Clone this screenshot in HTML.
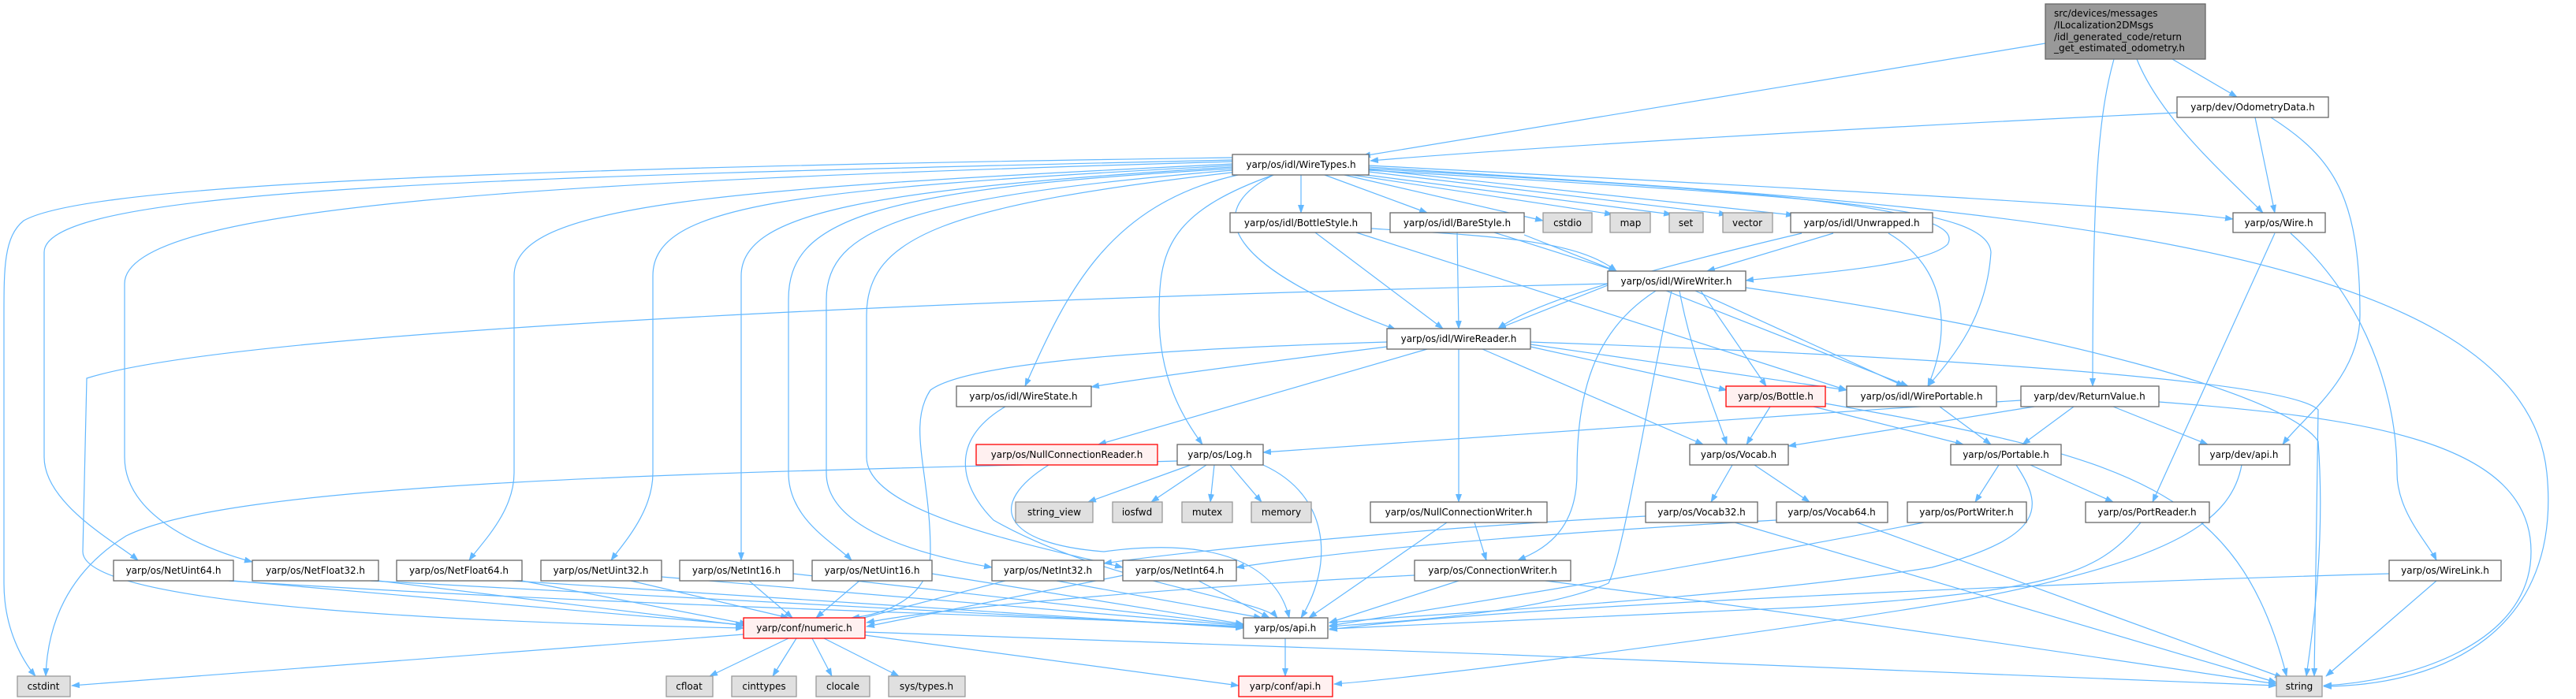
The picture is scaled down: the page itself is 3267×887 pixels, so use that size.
<!DOCTYPE html>
<html><head><meta charset="utf-8"><style>
html,body{margin:0;padding:0;background:#fff;}
svg{display:block;}
text{font-family:"DejaVu Sans","Liberation Sans",sans-serif;font-size:12px;fill:#000;}
.n{fill:#fff;stroke:#666;stroke-width:1.3;}
.g{fill:#e0e0e0;stroke:#999;stroke-width:1.3;}
.r{fill:#fff0f0;stroke:#f00;stroke-width:1.3;}
.root{fill:#999;stroke:#666;stroke-width:1.3;}
.e path{fill:none;stroke:#63b8ff;stroke-width:1.2;}
</style></head><body>
<svg width="3267" height="887" viewBox="0 0 3267 887" xmlns="http://www.w3.org/2000/svg">
<defs><marker id="a" markerUnits="userSpaceOnUse" markerWidth="11" markerHeight="8" refX="10" refY="4" orient="auto"><path d="M0,0 L11,4 L0,8 z" fill="#63b8ff"/></marker></defs>
<g class="e" marker-end="url(#a)">
<path marker-end="url(#a)" d="M2594,55 C2200,120 1900,170 1728,198"/>
<path marker-end="url(#a)" d="M2761,143 C2300,165 1900,190 1738,204"/>
<path marker-end="url(#a)" d="M2755,75 L2837,123"/>
<path marker-end="url(#a)" d="M2710,75 C2740,150 2820,220 2870,270"/>
<path marker-end="url(#a)" d="M2681,75 C2660,150 2654,250 2654,490"/>
<path marker-end="url(#a)" d="M2860,149 L2885,270"/>
<path marker-end="url(#a)" d="M2880,149 C2960,200 2993,250 2993,400 C2993,480 2920,530 2895,564"/>
<path marker-end="url(#a)" d="M1736,210 C2300,240 2700,260 2832,278"/>
<path marker-end="url(#a)" d="M1736,212 C2500,260 3200,300 3230,600 C3250,800 3100,870 2947,871"/>
<path marker-end="url(#a)" d="M1705,222 L1957,280"/>
<path marker-end="url(#a)" d="M1715,222 L2045,272"/>
<path marker-end="url(#a)" d="M1725,221 L2120,272"/>
<path marker-end="url(#a)" d="M1736,218 L2190,272"/>
<path marker-end="url(#a)" d="M1736,215 L2275,273"/>
<path marker-end="url(#a)" d="M1650,222 L1650,270"/>
<path marker-end="url(#a)" d="M1680,222 L1810,270"/>
<path marker-end="url(#a)" d="M1736,214 C2200,240 2500,260 2470,310 C2440,340 2260,350 2214,356"/>
<path marker-end="url(#a)" d="M1615,222 C1520,270 1560,340 1770,418"/>
<path marker-end="url(#a)" d="M1736,216 C2300,250 2520,260 2525,320 C2520,400 2480,450 2445,490"/>
<path marker-end="url(#a)" d="M1570,222 C1400,260 1350,380 1300,490"/>
<path marker-end="url(#a)" d="M1615,222 C1480,270 1470,320 1470,400 C1470,480 1500,530 1525,564"/>
<path marker-end="url(#a)" d="M1563,214 C1100,240 1000,280 1000,380 L1000,600 C1000,660 1060,690 1080,711"/>
<path marker-end="url(#a)" d="M1563,216 C1150,250 1048,290 1048,380 L1048,600 C1048,680 1200,710 1258,720"/>
<path marker-end="url(#a)" d="M1570,218 C1200,260 1099,300 1099,400 L1099,580 C1099,650 1300,690 1424,720"/>
<path marker-end="url(#a)" d="M1563,212 C1100,240 940,270 940,350 L940,711"/>
<path marker-end="url(#a)" d="M1563,210 C1000,240 828,260 828,350 L828,600 C828,650 790,690 775,711"/>
<path marker-end="url(#a)" d="M1563,208 C900,240 652,260 652,350 L652,600 C652,650 610,690 595,711"/>
<path marker-end="url(#a)" d="M1563,205 C700,230 158,260 158,360 L158,580 C158,660 270,700 320,713"/>
<path marker-end="url(#a)" d="M1563,203 C600,225 56,240 56,320 L56,580 C56,640 150,690 175,711"/>
<path marker-end="url(#a)" d="M1563,200 C500,215 100,240 30,280 C5,300 5,340 5,400 L5,740 C5,800 30,840 45,858"/>
<path marker-end="url(#a)" d="M2039,360 C1200,380 300,420 110,480 L105,700 C105,770 600,790 943,797"/>
<path marker-end="url(#a)" d="M1493,585 C900,600 300,610 160,680 C80,730 60,800 58,858"/>
<path marker-end="url(#a)" d="M1668,295 L1830,417"/>
<path marker-end="url(#a)" d="M1720,295 L2342,495"/>
<path marker-end="url(#a)" d="M1739,290 C1900,300 2000,305 2050,344"/>
<path marker-end="url(#a)" d="M1848,295 L1850,417"/>
<path marker-end="url(#a)" d="M1895,295 L2050,344"/>
<path marker-end="url(#a)" d="M1933,298 L2420,490"/>
<path marker-end="url(#a)" d="M2325,296 L2165,344"/>
<path marker-end="url(#a)" d="M2285,296 C2100,340 1950,380 1900,417"/>
<path marker-end="url(#a)" d="M2395,296 C2470,340 2475,420 2445,490"/>
<path marker-end="url(#a)" d="M2039,362 L1900,417"/>
<path marker-end="url(#a)" d="M2157,369 L2240,490"/>
<path marker-end="url(#a)" d="M2130,369 C2145,450 2175,520 2190,564"/>
<path marker-end="url(#a)" d="M2150,369 L2415,490"/>
<path marker-end="url(#a)" d="M2120,369 C2090,500 2060,700 2040,740 C1950,780 1750,790 1686,795"/>
<path marker-end="url(#a)" d="M2100,369 C2020,420 2000,500 2000,600 C2000,680 1950,700 1925,711"/>
<path marker-end="url(#a)" d="M2214,365 C2600,420 2900,500 2940,560 C2950,700 2930,820 2925,858"/>
<path marker-end="url(#a)" d="M1759,440 C1600,460 1450,480 1384,491"/>
<path marker-end="url(#a)" d="M1810,443 L1393,564"/>
<path marker-end="url(#a)" d="M1759,434 C1400,445 1220,465 1180,495 C1150,540 1180,600 1180,700 C1180,760 1120,780 1080,784"/>
<path marker-end="url(#a)" d="M1941,440 L2190,495"/>
<path marker-end="url(#a)" d="M1941,437 L2342,495"/>
<path marker-end="url(#a)" d="M1880,443 L2160,564"/>
<path marker-end="url(#a)" d="M1850,443 L1850,637"/>
<path marker-end="url(#a)" d="M1941,434 C2400,450 2900,480 2940,520 L2935,858"/>
<path marker-end="url(#a)" d="M1275,516 C1200,560 1220,620 1260,660 C1400,740 1600,760 1620,784"/>
<path marker-end="url(#a)" d="M1330,590 C1250,640 1270,690 1400,700 C1550,680 1620,720 1635,784"/>
<path marker-end="url(#a)" d="M1510,590 L1380,637"/>
<path marker-end="url(#a)" d="M1530,590 L1460,637"/>
<path marker-end="url(#a)" d="M1540,590 L1535,637"/>
<path marker-end="url(#a)" d="M1560,590 L1600,637"/>
<path marker-end="url(#a)" d="M1602,590 C1690,630 1690,720 1650,784"/>
<path marker-end="url(#a)" d="M2563,508 C2200,530 1800,560 1602,574"/>
<path marker-end="url(#a)" d="M2580,516 L2268,566"/>
<path marker-end="url(#a)" d="M2630,516 L2565,564"/>
<path marker-end="url(#a)" d="M2680,516 L2800,564"/>
<path marker-end="url(#a)" d="M2738,510 C3000,530 3210,560 3210,700 C3210,820 3050,865 2947,870"/>
<path marker-end="url(#a)" d="M2245,516 L2215,564"/>
<path marker-end="url(#a)" d="M2300,516 L2490,564"/>
<path marker-end="url(#a)" d="M2315,512 C2700,580 2840,620 2900,858"/>
<path marker-end="url(#a)" d="M2460,516 L2525,564"/>
<path marker-end="url(#a)" d="M2197,590 L2170,637"/>
<path marker-end="url(#a)" d="M2225,590 L2295,637"/>
<path marker-end="url(#a)" d="M2535,590 L2505,637"/>
<path marker-end="url(#a)" d="M2575,590 L2680,637"/>
<path marker-end="url(#a)" d="M2557,590 C2590,640 2600,680 2450,720 C2200,760 1800,780 1686,790"/>
<path marker-end="url(#a)" d="M2843,590 C2830,660 2760,710 2500,760 C2200,810 1800,860 1692,868"/>
<path marker-end="url(#a)" d="M2087,655 C1800,670 1500,700 1400,715"/>
<path marker-end="url(#a)" d="M2200,663 L2887,866"/>
<path marker-end="url(#a)" d="M2253,660 C1900,680 1700,700 1568,720"/>
<path marker-end="url(#a)" d="M2355,663 L2895,860"/>
<path marker-end="url(#a)" d="M2440,663 C2200,710 1900,760 1686,794"/>
<path marker-end="url(#a)" d="M2715,663 C2660,730 2600,750 2300,770 L1686,798"/>
<path marker-end="url(#a)" d="M2885,296 L2730,637"/>
<path marker-end="url(#a)" d="M2905,296 C3000,380 3040,500 3040,600 C3040,650 3080,690 3090,711"/>
<path marker-end="url(#a)" d="M3030,728 C2600,740 1900,770 1686,799"/>
<path marker-end="url(#a)" d="M3090,737 L2950,858"/>
<path marker-end="url(#a)" d="M1870,663 L1885,711"/>
<path marker-end="url(#a)" d="M1835,663 L1660,784"/>
<path marker-end="url(#a)" d="M1850,737 L1686,790"/>
<path marker-end="url(#a)" d="M1794,730 C1500,745 1200,770 1099,790"/>
<path marker-end="url(#a)" d="M1960,737 C2300,780 2700,840 2887,868"/>
<path marker-end="url(#a)" d="M296,737 L943,793"/>
<path marker-end="url(#a)" d="M290,737 C800,770 1300,780 1577,795"/>
<path marker-end="url(#a)" d="M480,737 L945,794"/>
<path marker-end="url(#a)" d="M470,737 L1577,796"/>
<path marker-end="url(#a)" d="M662,737 L948,792"/>
<path marker-end="url(#a)" d="M650,737 L1577,797"/>
<path marker-end="url(#a)" d="M800,737 L1000,784"/>
<path marker-end="url(#a)" d="M839,732 L1577,794"/>
<path marker-end="url(#a)" d="M950,737 L1005,784"/>
<path marker-end="url(#a)" d="M1006,728 L1577,793"/>
<path marker-end="url(#a)" d="M1090,737 L1035,784"/>
<path marker-end="url(#a)" d="M1182,728 L1577,792"/>
<path marker-end="url(#a)" d="M1275,737 L1080,788"/>
<path marker-end="url(#a)" d="M1340,737 L1600,784"/>
<path marker-end="url(#a)" d="M1425,730 L1099,795"/>
<path marker-end="url(#a)" d="M1520,737 L1610,784"/>
<path marker-end="url(#a)" d="M943,805 L91,870"/>
<path marker-end="url(#a)" d="M1000,810 L900,858"/>
<path marker-end="url(#a)" d="M1010,810 L980,858"/>
<path marker-end="url(#a)" d="M1030,810 L1055,858"/>
<path marker-end="url(#a)" d="M1045,810 L1140,858"/>
<path marker-end="url(#a)" d="M1097,806 L1571,870"/>
<path marker-end="url(#a)" d="M1097,802 C1600,820 2500,850 2887,870"/>
<path marker-end="url(#a)" d="M1630,810 L1630,858"/>
</g>
<g text-anchor="middle">
<rect class="root" x="2594" y="5" width="203" height="70"/>
<text x="2605" y="21" text-anchor="start">src/devices/messages</text>
<text x="2605" y="36" text-anchor="start">/ILocalization2DMsgs</text>
<text x="2605" y="51" text-anchor="start">/idl_generated_code/return</text>
<text x="2605" y="65" text-anchor="start">_get_estimated_odometry.h</text>

<rect class="n" x="2761" y="123" width="192" height="26"/><text x="2857" y="140">yarp/dev/OdometryData.h</text>
<rect class="n" x="1563" y="196" width="173" height="26"/><text x="1650" y="213">yarp/os/idl/WireTypes.h</text>

<rect class="n" x="1560" y="270" width="179" height="25"/><text x="1650" y="287">yarp/os/idl/BottleStyle.h</text>
<rect class="n" x="1763" y="270" width="170" height="25"/><text x="1848" y="287">yarp/os/idl/BareStyle.h</text>
<rect class="g" x="1957" y="270" width="62" height="25"/><text x="1988" y="287">cstdio</text>
<rect class="g" x="2042" y="270" width="51" height="25"/><text x="2068" y="287">map</text>
<rect class="g" x="2117" y="270" width="43" height="25"/><text x="2138" y="287">set</text>
<rect class="g" x="2185" y="270" width="63" height="25"/><text x="2216" y="287">vector</text>
<rect class="n" x="2271" y="270" width="180" height="25"/><text x="2361" y="287">yarp/os/idl/Unwrapped.h</text>
<rect class="n" x="2832" y="270" width="117" height="25"/><text x="2890" y="287">yarp/os/Wire.h</text>

<rect class="n" x="2039" y="344" width="175" height="25"/><text x="2126" y="361">yarp/os/idl/WireWriter.h</text>
<rect class="n" x="1759" y="417" width="182" height="26"/><text x="1850" y="434">yarp/os/idl/WireReader.h</text>

<rect class="n" x="1213" y="490" width="171" height="26"/><text x="1298" y="507">yarp/os/idl/WireState.h</text>
<rect class="r" x="2189" y="490" width="126" height="26"/><text x="2252" y="507">yarp/os/Bottle.h</text>
<rect class="n" x="2342" y="490" width="190" height="26"/><text x="2437" y="507">yarp/os/idl/WirePortable.h</text>
<rect class="n" x="2563" y="490" width="175" height="26"/><text x="2650" y="507">yarp/dev/ReturnValue.h</text>

<rect class="r" x="1238" y="564" width="230" height="26"/><text x="1353" y="581">yarp/os/NullConnectionReader.h</text>
<rect class="n" x="1493" y="564" width="109" height="26"/><text x="1547" y="581">yarp/os/Log.h</text>
<rect class="n" x="2143" y="564" width="125" height="26"/><text x="2205" y="581">yarp/os/Vocab.h</text>
<rect class="n" x="2474" y="564" width="140" height="26"/><text x="2544" y="581">yarp/os/Portable.h</text>
<rect class="n" x="2789" y="564" width="115" height="26"/><text x="2846" y="581">yarp/dev/api.h</text>

<rect class="g" x="1288" y="637" width="98" height="26"/><text x="1337" y="654">string_view</text>
<rect class="g" x="1411" y="637" width="63" height="26"/><text x="1442" y="654">iosfwd</text>
<rect class="g" x="1499" y="637" width="64" height="26"/><text x="1531" y="654">mutex</text>
<rect class="g" x="1587" y="637" width="76" height="26"/><text x="1625" y="654">memory</text>
<rect class="n" x="1738" y="637" width="224" height="26"/><text x="1850" y="654">yarp/os/NullConnectionWriter.h</text>
<rect class="n" x="2087" y="637" width="142" height="26"/><text x="2158" y="654">yarp/os/Vocab32.h</text>
<rect class="n" x="2253" y="637" width="141" height="26"/><text x="2323" y="654">yarp/os/Vocab64.h</text>
<rect class="n" x="2419" y="637" width="151" height="26"/><text x="2494" y="654">yarp/os/PortWriter.h</text>
<rect class="n" x="2645" y="637" width="157" height="26"/><text x="2723" y="654">yarp/os/PortReader.h</text>

<rect class="n" x="144" y="711" width="152" height="26"/><text x="220" y="728">yarp/os/NetUint64.h</text>
<rect class="n" x="320" y="711" width="160" height="26"/><text x="400" y="728">yarp/os/NetFloat32.h</text>
<rect class="n" x="503" y="711" width="159" height="26"/><text x="582" y="728">yarp/os/NetFloat64.h</text>
<rect class="n" x="686" y="711" width="153" height="26"/><text x="762" y="728">yarp/os/NetUint32.h</text>
<rect class="n" x="862" y="711" width="144" height="26"/><text x="934" y="728">yarp/os/NetInt16.h</text>
<rect class="n" x="1030" y="711" width="152" height="26"/><text x="1106" y="728">yarp/os/NetUint16.h</text>
<rect class="n" x="1258" y="711" width="142" height="26"/><text x="1329" y="728">yarp/os/NetInt32.h</text>
<rect class="n" x="1424" y="711" width="144" height="26"/><text x="1496" y="728">yarp/os/NetInt64.h</text>
<rect class="n" x="1794" y="711" width="198" height="26"/><text x="1893" y="728">yarp/os/ConnectionWriter.h</text>
<rect class="n" x="3030" y="711" width="142" height="26"/><text x="3101" y="728">yarp/os/WireLink.h</text>

<rect class="r" x="943" y="784" width="154" height="26"/><text x="1020" y="801">yarp/conf/numeric.h</text>
<rect class="n" x="1577" y="784" width="107" height="26"/><text x="1630" y="801">yarp/os/api.h</text>

<rect class="g" x="22" y="858" width="67" height="26"/><text x="55" y="875">cstdint</text>
<rect class="g" x="845" y="858" width="59" height="26"/><text x="874" y="875">cfloat</text>
<rect class="g" x="928" y="858" width="82" height="26"/><text x="969" y="875">cinttypes</text>
<rect class="g" x="1035" y="858" width="68" height="26"/><text x="1069" y="875">clocale</text>
<rect class="g" x="1127" y="858" width="97" height="26"/><text x="1175" y="875">sys/types.h</text>
<rect class="r" x="1571" y="858" width="119" height="26"/><text x="1630" y="875">yarp/conf/api.h</text>
<rect class="g" x="2887" y="858" width="58" height="26"/><text x="2916" y="875">string</text>
</g>
</svg>
</body></html>
